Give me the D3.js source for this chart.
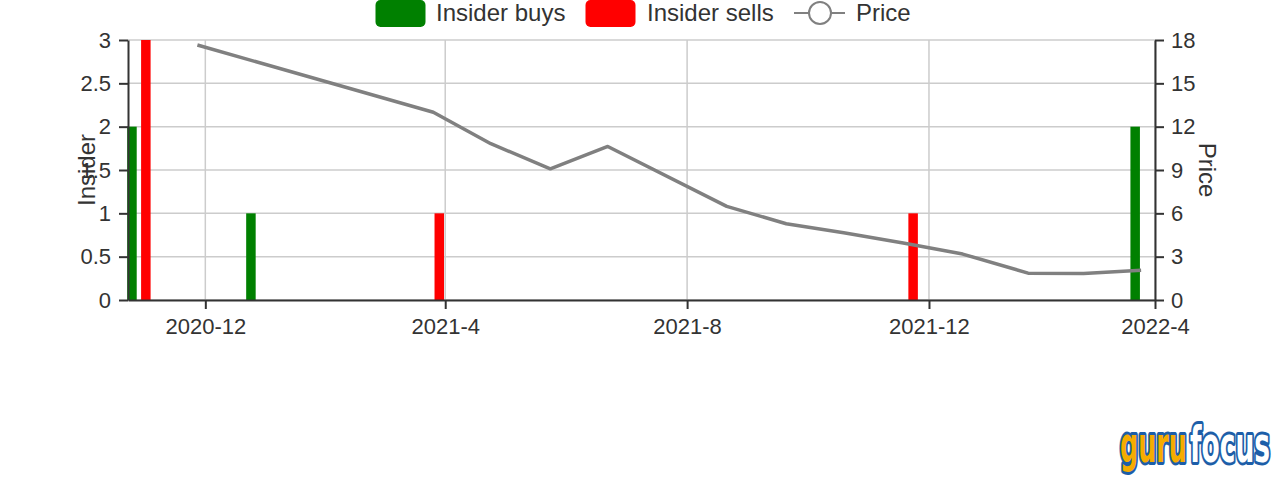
<!DOCTYPE html>
<html>
<head>
<meta charset="utf-8">
<script src="https://cdn.jsdelivr.net/npm/d3@7"></script>
<style>
  html, body { margin: 0; padding: 0; background: #fff; }
  svg { display: block; font-family: "Liberation Sans", Arial, Helvetica, sans-serif; }
</style>
</head>
<body>
<svg id="chart" width="1282" height="480"></svg>
<script>
// ---- data ----
const buyDates   = ["2020-10-25", "2020-12-24", "2022-03-15"];
const buyValues  = [2, 1, 2];
const sellDates  = ["2020-11-01", "2021-03-29", "2021-11-23"];
const sellValues = [3, 1, 1];
const priceDates  = ["2020-11-27", "2021-03-26", "2021-04-24", "2021-05-24", "2021-06-22",
                     "2021-08-21", "2021-09-20", "2021-10-19", "2021-11-18", "2021-12-18",
                     "2022-01-20", "2022-02-17", "2022-03-18"];
const priceValues = [17.65, 13.0, 10.82, 9.08, 10.63, 6.48, 5.28, 4.65, 3.95, 3.18, 1.86, 1.83, 2.06];
const xDomain     = ["2020-10-23", "2022-03-25"];
const xTickDates  = ["2020-12-01", "2021-04-01", "2021-08-01", "2021-12-01", "2022-03-25"];
const xTickLabels = ["2020-12", "2021-4", "2021-8", "2021-12", "2022-4"];
const leftTicks   = [0, 0.5, 1, 1.5, 2, 2.5, 3];
const rightTicks  = [0, 3, 6, 9, 12, 15, 18];
const legendItems = ["Insider buys", "Insider sells", "Price"];

// ---- layout ----
const parse = d3.utcParse("%Y-%m-%d");
const L = 128, R = 1155, T = 40, B = 300;
const svg = d3.select("#chart");
const textColor = "#333";
const tickFont = 22;
const bigFont = 24;

const x = d3.scaleUtc().domain(xDomain.map(parse)).range([L, R]);
const yL = d3.scaleLinear().domain([0, 3]).range([B, T]);
const yR = d3.scaleLinear().domain([0, 18]).range([B, T]);

// grid
const grid = svg.append("g").attr("stroke", "#cccccc").attr("stroke-width", 1.5);
grid.selectAll("line.h").data(leftTicks).join("line")
  .attr("x1", L).attr("x2", R).attr("y1", d => yL(d)).attr("y2", d => yL(d));
grid.selectAll("line.v").data(xTickDates.map(parse)).join("line")
  .attr("x1", d => x(d)).attr("x2", d => x(d)).attr("y1", T).attr("y2", B);

// bars
const bw = 9.5;
svg.append("g").selectAll("rect").data(buyDates.map((d, i) => ({d: parse(d), v: buyValues[i]}))).join("rect")
  .attr("x", d => x(d.d) - bw / 2).attr("width", bw)
  .attr("y", d => yL(d.v)).attr("height", d => yL(0) - yL(d.v))
  .attr("fill", "#008000");
svg.append("g").selectAll("rect").data(sellDates.map((d, i) => ({d: parse(d), v: sellValues[i]}))).join("rect")
  .attr("x", d => x(d.d) - bw / 2).attr("width", bw)
  .attr("y", d => yL(d.v)).attr("height", d => yL(0) - yL(d.v))
  .attr("fill", "#ff0000");

// price line
const line = d3.line().x(d => x(d.d)).y(d => yR(d.v));
svg.append("path")
  .datum(priceDates.map((d, i) => ({d: parse(d), v: priceValues[i]})))
  .attr("d", line).attr("fill", "none").attr("stroke", "#808080").attr("stroke-width", 3.5)
  .attr("stroke-linejoin", "round");

// axes
function styleAxis(g) {
  g.selectAll(".domain").attr("stroke", textColor).attr("stroke-width", 2);
  g.selectAll(".tick line").attr("stroke", textColor).attr("stroke-width", 2);
  g.selectAll(".tick text").attr("fill", textColor).attr("font-size", tickFont)
    .attr("font-family", "Liberation Sans, Arial, sans-serif");
}
const gx = svg.append("g").attr("transform", `translate(0,${B})`)
  .call(d3.axisBottom(x).tickValues(xTickDates.map(parse))
    .tickFormat((d, i) => xTickLabels[i]).tickSize(9).tickSizeOuter(0).tickPadding(9));
styleAxis(gx);
const gl = svg.append("g").attr("transform", `translate(${L},0)`)
  .call(d3.axisLeft(yL).tickValues(leftTicks).tickFormat(d3.format("~g")).tickSize(9).tickSizeOuter(0).tickPadding(8));
styleAxis(gl);
const gr = svg.append("g").attr("transform", `translate(${R},0)`)
  .call(d3.axisRight(yR).tickValues(rightTicks).tickSize(9).tickSizeOuter(0).tickPadding(7));
styleAxis(gr);

// axis titles
svg.append("text").attr("transform", `translate(95,170) rotate(-90)`)
  .attr("text-anchor", "middle").attr("fill", textColor).attr("font-size", bigFont).text("Insider");
svg.append("text").attr("transform", `translate(1199,170) rotate(90)`)
  .attr("text-anchor", "middle").attr("fill", textColor).attr("font-size", bigFont).text("Price");

// legend
const lg = svg.append("g");
lg.append("rect").attr("x", 375.5).attr("y", 0).attr("width", 50).attr("height", 27).attr("rx", 5).attr("fill", "#008000");
lg.append("text").attr("x", 436).attr("y", 21).attr("fill", textColor).attr("font-size", bigFont).text(legendItems[0]);
lg.append("rect").attr("x", 585.5).attr("y", 0).attr("width", 50).attr("height", 27).attr("rx", 5).attr("fill", "#ff0000");
lg.append("text").attr("x", 647).attr("y", 21).attr("fill", textColor).attr("font-size", bigFont).text(legendItems[1]);
lg.append("line").attr("x1", 794).attr("x2", 845).attr("y1", 13).attr("y2", 13).attr("stroke", "#808080").attr("stroke-width", 2);
lg.append("circle").attr("cx", 820).attr("cy", 13).attr("r", 11).attr("fill", "#fff").attr("stroke", "#808080").attr("stroke-width", 2);
lg.append("text").attr("x", 856).attr("y", 21).attr("fill", textColor).attr("font-size", bigFont).text(legendItems[2]);

// logo
function logoPart(txt, fill, x0, w) {
  const t = svg.append("text")
    .attr("font-family", "DejaVu Sans Condensed, DejaVu Sans, sans-serif").attr("font-weight", "bold")
    .attr("font-size", 50).attr("stroke", "#1d5ea8").attr("stroke-width", 6).attr("stroke-linejoin", "round")
    .attr("paint-order", "stroke").attr("fill", fill).text(txt);
  const nat = t.node().getComputedTextLength();
  t.attr("transform", `translate(${x0},462) scale(${w / nat},1)`);
}
logoPart("guru", "#f6ac00", 1120, 67);
logoPart("focus", "#ffffff", 1190, 80);
</script>
</body>
</html>
